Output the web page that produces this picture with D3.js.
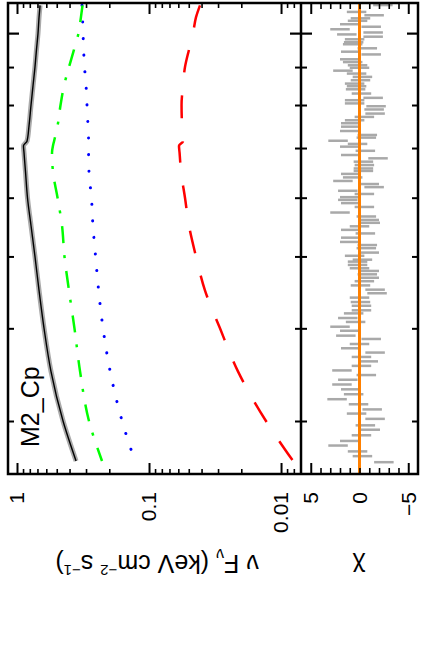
<!DOCTYPE html>
<html lang="en">
<head>
<meta charset="UTF-8">
<script src="https://d3js.org/d3.v7.min.js"></script>
<style>
  body { margin: 0; background: #fff; }
  text { font-family: "Liberation Sans", Arial, Helvetica, sans-serif; fill: #000; }
</style>
</head>
<body>
<svg class="chart" width="423" height="655"></svg>
<script>

// model curves (energy in keV, nuFnu in keV cm-2 s-1)
const modelEnergy = [10.9, 10.5, 10.0, 9.5, 9.0, 8.5, 8.0, 7.5, 7.15, 7.05, 6.9, 6.5, 6.0, 5.5, 5.0, 4.5, 4.0, 3.5, 3.0, 2.65];
const totalModel = [0.669, 0.681, 0.693, 0.712, 0.731, 0.756, 0.783, 0.811, 0.840, 0.893, 0.885, 0.862, 0.833, 0.783, 0.731, 0.681, 0.624, 0.553, 0.448, 0.357];
const greenModel = [0.319, 0.328, 0.342, 0.370, 0.404, 0.440, 0.468, 0.493, 0.524, 0.534, 0.543, 0.534, 0.493, 0.456, 0.437, 0.404, 0.367, 0.333, 0.285, 0.227];
const blueModel = [0.322, 0.319, 0.316, 0.313, 0.308, 0.300, 0.295, 0.290, 0.287, 0.287, 0.287, 0.285, 0.273, 0.266, 0.254, 0.241, 0.223, 0.197, 0.160, 0.128];
const redModel = [0.0411, 0.0441, 0.0464, 0.0498, 0.0534, 0.0553, 0.0567, 0.0562, 0.0553, 0.0593, 0.0587, 0.0572, 0.0534, 0.0498, 0.0441, 0.0377, 0.0290, 0.0212, 0.0130, 0.00811];

// residuals
const residEnergy = [10.91, 10.68, 10.57, 10.47, 10.39, 10.28, 10.20, 10.12, 10.02, 9.96, 9.89, 9.81, 9.72, 9.66, 9.54, 9.44, 9.36, 9.22, 9.14, 9.05,
  8.98, 8.90, 8.82, 8.73, 8.64, 8.55, 8.48, 8.40, 8.29, 8.18, 8.12, 8.04, 7.97, 7.89, 7.79, 7.71, 7.63, 7.56, 7.48, 7.38,
  7.29, 7.23, 7.16, 7.09, 7.03, 6.94, 6.85, 6.78, 6.71, 6.64, 6.57, 6.52, 6.46, 6.39, 6.32, 6.26, 6.20, 6.13, 6.07, 6.01,
  5.96, 5.90, 5.83, 5.73, 5.66, 5.60, 5.55, 5.49, 5.43, 5.37, 5.30,
  5.23, 5.18, 5.13, 5.06, 5.01, 4.95, 4.92, 4.87, 4.82, 4.78, 4.73, 4.68, 4.63, 4.57, 4.51, 4.46, 4.40, 4.34, 4.29, 4.23,
  4.19, 4.13, 4.08, 4.02, 3.97, 3.91, 3.87, 3.81, 3.76, 3.71, 3.66, 3.61, 3.56, 3.51, 3.46, 3.41, 3.36, 3.31, 3.26, 3.21,
  3.16, 3.11, 3.07, 3.02, 2.96, 2.92, 2.87, 2.82, 2.78, 2.73, 2.69, 2.64];
const residChi = [-2.4, 0.3, -1.5, -0.1, 0.2, 1.0, -1.2, 2.0, -1.4, 1.3, -1.4, 0.5, 0.6, 0.7, -0.8, 0.9, -1.2, 1.0, 0.7, 0.2,
  0, 1.7, 0.3, -0.3, -0.1, 0.5, 0.3, 0.4, -0.2, -1.4, 0.5, 0.5, -1.7, -1.5, -1.6, -0.5, 0.5, 0.9, 0.9, 1.0,
  -0.8, -0.7, 2.2, 0.2, 1.0, -0.6, 0.9, -1.9, -0.4, -0.5, -0.4, -0.4, 0.9, 0.7, 1.7, -1.0, -1.5, 1.2, -0.5, 1.0,
  1.2, 0.9, -0.5, 2.0, -0.7, -1.0, -1.1, 0, 0.9, -0.6, 0.9,
  1.0, -0.8, -0.7, -1.0, 0.5, -0.3, 0.2, 0.2, 0, -1.0, -0.8, -1.0, -0.5, -0.1, -1.6, -1.8, 0, -0.1, -0.2, -0.2,
  0.6, 1.2, 0.4, 2.0, 1.0, 1.4, -1.2, 0, 0.9, -1.6, -0.2, -0.9, -0.2, 1.8, -0.7, 1.2, 1.8, 0.9, 0.6, 2.3,
  0.1, -1.3, 0.3, -1.6, -0.6, -1.1, -0.2, 1.0, 2.2, 0.2, -0.3, -2.5];

// ticks
const fluxMajor = [1, 0.1, 0.01];
const fluxLabels = ["1", "0.1", "0.01"];
const chiMajor = [5, 0, -5];
const chiLabels = ["5", "0", "\u22125"];
const energyMajor = [10];
const energyMinor = [3, 4, 5, 6, 7, 8, 9];
const chiMinor = [-4, -3, -2, -1, 0, 1, 2, 3, 4];

const box = {left: 8, right: 418, top: 3, bottom: 474, split: 301};

let svg = d3.select(".chart");

let e = d3.scaleLog().domain([2.545, 10.98]).range([box.bottom, box.top]);
let f = d3.scaleLog().domain([1.17, 0.00706]).range([box.left, box.split]);
let c = d3.scaleLinear().domain([6, -6]).range([box.split, box.right]);

const fluxMinor = f.ticks().filter(v => !fluxMajor.includes(v));

let defs = svg.append("defs");
defs.append("clipPath").attr("id", "clipTop")
  .append("rect").attr("x", box.left).attr("y", box.top)
  .attr("width", box.split - box.left).attr("height", box.bottom - box.top);
defs.append("clipPath").attr("id", "clipRes")
  .append("rect").attr("x", box.split).attr("y", box.top)
  .attr("width", box.right - box.split).attr("height", box.bottom - box.top);

// upper (left) panel: spectrum
let spec = svg.append("g").attr("clip-path", "url(#clipTop)");

const curve = vals => d3.line()
    .x(d => f(d[1]))
    .y(d => e(d[0]))
    .curve(d3.curveMonotoneY)(d3.zip(modelEnergy, vals));

// data (grey band)
spec.append("path")
    .attr("d", curve(totalModel))
    .attr("fill", "none").attr("stroke", "#aaaaaa").attr("stroke-width", 5);

spec.append("path")
    .attr("d", curve(redModel))
    .attr("fill", "none").attr("stroke", "#ff0000").attr("stroke-width", 2.5)
    .attr("stroke-dasharray", "23,23");
spec.append("path")
    .attr("d", curve(blueModel))
    .attr("fill", "none").attr("stroke", "#0000ff").attr("stroke-width", 3)
    .attr("stroke-linecap", "round").attr("stroke-dasharray", "0.1,16.5");
spec.append("path")
    .attr("d", curve(greenModel))
    .attr("fill", "none").attr("stroke", "#00ff00").attr("stroke-width", 2.5)
    .attr("stroke-dasharray", "17,12,3,13");
spec.append("path")
    .attr("d", curve(totalModel))
    .attr("fill", "none").attr("stroke", "#000").attr("stroke-width", 1.4);

// residual panel
let res = svg.append("g").attr("clip-path", "url(#clipRes)");
res.selectAll("line.res")
  .data(d3.zip(residEnergy, residChi))
  .join("line")
    .attr("class", "res")
    .attr("x1", d => c(d[1] + 1))
    .attr("x2", d => c(d[1] - 1))
    .attr("y1", d => e(d[0]))
    .attr("y2", d => e(d[0]))
    .attr("stroke", "#a9a9a9").attr("stroke-width", 2.5);
res.append("line")
    .attr("x1", c(0)).attr("x2", c(0))
    .attr("y1", box.top).attr("y2", box.bottom)
    .attr("stroke", "#ff8000").attr("stroke-width", 3);

// axes helper: ticks only, no domain
function addAxis(axis, tx, ty, size, vals, width) {
  let g = svg.append("g")
      .attr("transform", `translate(${tx},${ty})`)
      .call(axis.tickValues(vals).tickSize(size).tickSizeOuter(0).tickFormat(""));
  g.select(".domain").remove();
  g.selectAll(".tick line").attr("stroke", "#000").attr("stroke-width", width);
}

// flux axis ticks (bottom and top edges)
addAxis(d3.axisTop(f), 0, box.bottom, 11, fluxMajor, 2);
addAxis(d3.axisTop(f), 0, box.bottom, 5, fluxMinor, 1.6);
addAxis(d3.axisBottom(f), 0, box.top, 11, fluxMajor, 2);
addAxis(d3.axisBottom(f), 0, box.top, 5, fluxMinor, 1.6);
// chi axis ticks
addAxis(d3.axisTop(c), 0, box.bottom, 11, [5, -5], 2);
addAxis(d3.axisTop(c), 0, box.bottom, 6, chiMinor, 1.6);
addAxis(d3.axisBottom(c), 0, box.top, 11, [5, -5], 2);
addAxis(d3.axisBottom(c), 0, box.top, 6, chiMinor, 1.6);
// energy axis ticks on the left edge, both sides of the split, right edge
const energySides = () => [[d3.axisRight(e), box.left], [d3.axisLeft(e), box.split],
                           [d3.axisRight(e), box.split], [d3.axisLeft(e), box.right]];
energySides().forEach(([ax, x]) => addAxis(ax, x, 0, 11, energyMajor, 2.2));
energySides().forEach(([ax, x]) => addAxis(ax, x, 0, 6, energyMinor, 2));

// frame
svg.append("rect")
    .attr("x", box.left).attr("y", box.top)
    .attr("width", box.right - box.left).attr("height", box.bottom - box.top)
    .attr("fill", "none").attr("stroke", "#000").attr("stroke-width", 2.5);
svg.append("line")
    .attr("x1", box.split).attr("x2", box.split)
    .attr("y1", box.top).attr("y2", box.bottom)
    .attr("stroke", "#000").attr("stroke-width", 2.5);

// tick labels (rotated)
svg.append("g").selectAll("text")
  .data(fluxMajor)
  .join("text")
    .attr("transform", d => `translate(${f(d)},492) rotate(-90)`)
    .attr("text-anchor", "end").attr("dy", "0.35em")
    .style("font-size", "21px")
    .text((d, i) => fluxLabels[i]);
svg.append("g").selectAll("text")
  .data(chiMajor)
  .join("text")
    .attr("transform", d => `translate(${c(d)},492) rotate(-90)`)
    .attr("text-anchor", "end").attr("dy", "0.35em")
    .style("font-size", "21px")
    .text((d, i) => chiLabels[i]);

// axis titles (upside down)
let yt = svg.append("text")
    .attr("transform", "translate(157,555) rotate(180)")
    .attr("text-anchor", "middle")
    .style("font-size", "25px");
yt.append("tspan").text("\u03bd F");
yt.append("tspan").attr("dy", 6).style("font-size", "16px").text("\u03bd");
yt.append("tspan").attr("dy", -6).text(" (keV cm");
yt.append("tspan").attr("dy", -10).style("font-size", "15px").text("\u22122");
yt.append("tspan").attr("dy", 10).text(" s");
yt.append("tspan").attr("dy", -10).style("font-size", "15px").text("\u22121");
yt.append("tspan").attr("dy", 10).text(")");

svg.append("text")
    .attr("transform", "translate(359,558) rotate(180)")
    .attr("text-anchor", "middle")
    .style("font-size", "25px")
    .text("\u03c7");

// model name
svg.append("text")
    .attr("transform", "translate(39,447) rotate(-90)")
    .style("font-size", "25px")
    .text("M2_Cp");

</script>
</body>
</html>
